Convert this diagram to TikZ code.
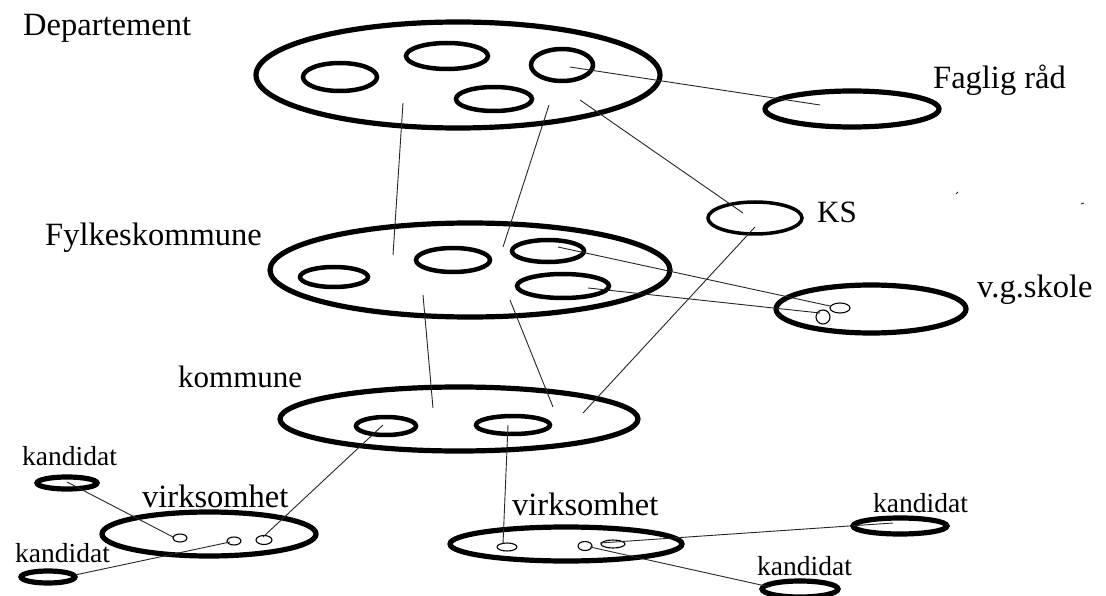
\documentclass[tikz,border=0pt]{standalone}
\usepackage{fontspec}
\setmainfont{Liberation Serif}
\usetikzlibrary{shapes.geometric}
\tikzset{
  ell/.style n args={2}{ellipse,draw=black,inner sep=0pt,outer sep=0pt,minimum width=#1pt,minimum height=#2pt},
  thick5/.style={line width=5.2pt},
  thick4/.style={line width=4.5pt},
  thin1/.style={line width=1.1pt},
  conn/.style={draw=black!85,line width=0.9pt},
  biglabel/.style={anchor=base west,inner sep=0pt,font=\fontsize{32.5}{38}\selectfont},
  medlabel/.style={anchor=base west,inner sep=0pt,font=\fontsize{31}{36}\selectfont},
  smalllabel/.style={anchor=base west,inner sep=0pt,font=\fontsize{27.5}{30}\selectfont},
}
\begin{document}
\begin{tikzpicture}[x=1pt,y=-1pt]
\useasboundingbox[fill=white] (0,0) rectangle (1106,596);

% Departement
\node[ell={404}{106},thick5] (dep) at (458,75) {};
\node[ell={74}{28},thick4] (d1) at (340,77) {};
\node[ell={82}{26},thick4] (d2) at (447,56) {};
\node[ell={62}{32},thick4] (d3) at (562,65) {};
\node[ell={76}{24},thick4] (d4) at (494,99) {};
\node[biglabel] (tdep) at (23,36) {Departement};

% Faglig rad
\node[ell={174}{36},thick5] (fag) at (852,109) {};
\node[biglabel] (tfag) at (933,89) {Faglig råd};

% KS
\node[ell={94}{32},line width=3.5pt] (ks) at (755,218) {};
\node[medlabel] (tks) at (817,223) {KS};

% Fylkeskommune
\node[ell={400}{94},thick5] (fyl) at (470,270) {};
\node[ell={68}{20},thick4] (f1) at (334,277) {};
\node[ell={74}{24},thick4] (f2) at (453,260) {};
\node[ell={72}{22},thick4] (f3) at (548,251) {};
\node[ell={92}{24},thick4] (f4) at (563,286) {};
\node[biglabel] (tfyl) at (45,246) {Fylkeskommune};

% v.g.skole
\node[ell={190}{48},thick5] (vgs) at (871,309) {};
\node[ell={20}{10},thin1] (s1) at (840,308) {};
\node[ell={14}{14},thin1] (s2) at (823,317) {};
\node[biglabel] (tvgs) at (977,297) {v.g.skole};

% kommune
\node[ell={358}{64},thick5] (kom) at (459,419) {};
\node[ell={60}{18},thick4] (k1) at (386,426) {};
\node[ell={74}{18},thick4] (k2) at (513,425) {};
\node[medlabel] (tkom) at (178,387) {kommune};

% virksomhet left
\node[ell={214}{44},thick5] (vl) at (209,534) {};
\node[ell={14}{8},thin1] (vl1) at (180,538) {};
\node[ell={14}{8},thin1] (vl2) at (234,541) {};
\node[ell={16}{9},thin1] (vl3) at (264,540) {};
\node[biglabel] (tvl) at (142,507) {virksomhet};

\node[ell={60}{12},thick5] (kTL) at (67,483) {};
\node[smalllabel] (tkTL) at (22,465) {kandidat};
\node[ell={54}{12},thick5] (kBL) at (48,577) {};
\node[smalllabel] (tkBL) at (15,562) {kandidat};

% virksomhet right
\node[ell={232}{34},thick5] (vr) at (566,544) {};
\node[ell={20}{8},thin1] (vr1) at (507,547) {};
\node[ell={14}{9},thin1] (vr2) at (585,546) {};
\node[ell={24}{8},thin1] (vr3) at (613,544) {};
\node[biglabel] (tvr) at (512,515) {virksomhet};

\node[ell={94}{16},thick5] (kR) at (900,526) {};
\node[smalllabel] (tkR) at (873,512) {kandidat};
\node[ell={76}{16},thick5] (kB) at (800,589) {};
\node[smalllabel] (tkB) at (757,575) {kandidat};

% connector end points
\coordinate (a1) at (570,67);
\coordinate (a2) at (820,105);
\coordinate (b1) at (580,100);
\coordinate (b2) at (743,213);
\coordinate (c1) at (755,227);
\coordinate (c2) at (583,413);
\coordinate (e1) at (403,103);
\coordinate (e2) at (393,255);
\coordinate (g1) at (549,105);
\coordinate (g2) at (503,247);
\coordinate (h1) at (558,247);
\coordinate (h2) at (830,306);
\coordinate (i1) at (588,288);
\coordinate (i2) at (820,313);
\coordinate (j1) at (423,295);
\coordinate (j2) at (433,408);
\coordinate (l1) at (510,300);
\coordinate (l2) at (553,407);
\coordinate (m1) at (383,425);
\coordinate (m2) at (263,537);
\coordinate (n1) at (508,425);
\coordinate (n2) at (503,544);
\coordinate (o1) at (67,482);
\coordinate (o2) at (173,537);
\coordinate (p1) at (75,575);
\coordinate (p2) at (230,542);
\coordinate (q1) at (600,543);
\coordinate (q2) at (893,523);
\coordinate (r1) at (590,547);
\coordinate (r2) at (770,587);

\draw[conn] (a1) -- (a2);
\draw[conn] (b1) -- (b2);
\draw[conn] (c1) -- (c2);
\draw[conn] (e1) -- (e2);
\draw[conn] (g1) -- (g2);
\draw[conn] (h1) -- (h2);
\draw[conn] (i1) -- (i2);
\draw[conn] (j1) -- (j2);
\draw[conn] (l1) -- (l2);
\draw[conn] (m1) -- (m2);
\draw[conn] (n1) -- (n2);
\draw[conn] (o1) -- (o2);
\draw[conn] (p1) -- (p2);
\draw[conn] (q1) -- (q2);
\draw[conn] (r1) -- (r2);

% stray specks
\coordinate (x1) at (956,194);
\coordinate (x2) at (958,192);
\coordinate (y1) at (1081,204);
\coordinate (y2) at (1084,203);
\draw[conn] (x1) -- (x2);
\draw[conn] (y1) -- (y2);
\end{tikzpicture}
\end{document}
